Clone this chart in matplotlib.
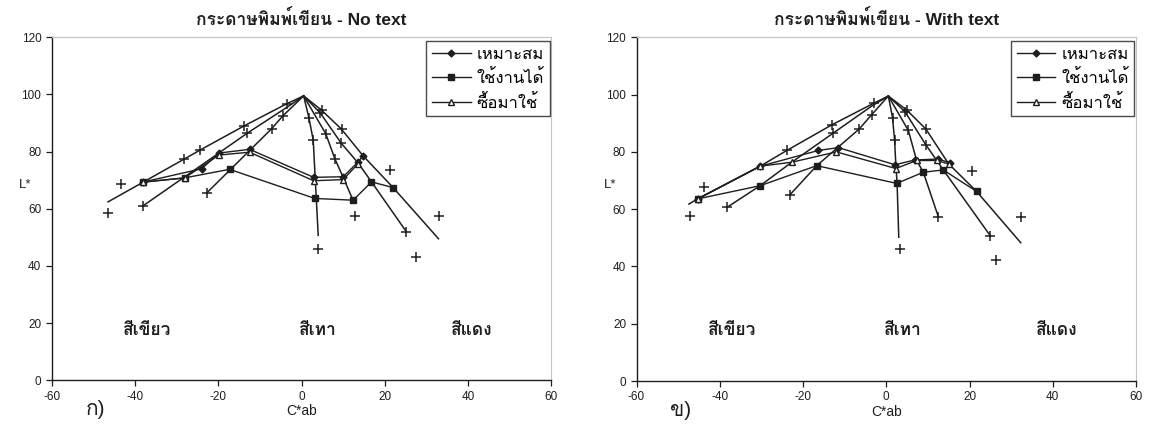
import matplotlib
matplotlib.use("Agg")
import matplotlib.pyplot as plt
import matplotlib.font_manager as fm
from matplotlib import ft2font

# look for any installed font that has Thai glyphs
thai_font = None
for f in fm.fontManager.ttflist:
    try:
        if ft2font.FT2Font(f.fname).get_char_index(0x0E01):
            thai_font = f.name
            break
    except Exception:
        pass

families = ["Liberation Sans"]
if thai_font:
    families.append(thai_font)
families.append("DejaVu Sans")
plt.rcParams["font.family"] = families
plt.rcParams["axes.unicode_minus"] = False

# ---------------- data ----------------
titles = ["กระดาษพิมพ์เขียน - No text", "กระดาษพิมพ์เขียน - With text"]
panel_tags = ["ก)", "ข)"]
series_names = ["เหมาะสม", "ใช้งานได้", "ซื้อมาใช้"]
hue_names = ["สีเขียว", "สีเทา", "สีแดง"]
hue_name_x = [-37, 4, 41]

# panel ก) No text : hue lines from the gray point
nt_lines_x = [
    [0.5, -3.5, -13.8, -24.3, -28.3, -46.5],
    [0.5, -3.0, -13.0, -24.0, -38.2],
    [0.5, -4.5, -7.2, -22.8],
    [0.5, 1.8, 2.8, 4.0],
    [0.5, 5.8, 8.0, 10.0, 12.5],
    [0.5, 4.5, 9.5, 13.6, 16.8, 25.2],
    [0.5, 4.8, 9.5, 14.8, 22.0, 32.9],
]
nt_lines_y = [
    [99.5, 96.8, 89.0, 80.6, 77.3, 62.4],
    [99.5, 96.0, 86.5, 75.3, 60.9],
    [99.5, 92.5, 88.0, 65.5],
    [99.5, 91.6, 84.0, 50.7],
    [99.5, 86.3, 77.5, 71.0, 62.5],
    [99.5, 93.5, 83.0, 76.0, 69.4, 51.9],
    [99.5, 94.5, 88.0, 78.5, 67.4, 49.5],
]
nt_plus_x = [-3.5, -13.8, -24.3, -28.3, -13.0, -38.2, -4.5, -7.2, -22.8, 1.8, 2.8,
             5.8, 8.0, 4.5, 9.5, 25.2, 4.8, 9.6, -46.4, -43.3, 4.0, 12.8, 21.2, 27.6, 32.9]
nt_plus_y = [96.8, 89.0, 80.6, 77.3, 86.5, 60.9, 92.5, 88.0, 65.5, 91.6, 84.0,
             86.3, 77.5, 93.5, 83.0, 51.9, 94.5, 88.0, 58.5, 68.5, 46.0, 57.5, 73.7, 43.1, 57.3]
nt_s1_x = [-38.2, -24.0, -19.8, -12.5, 2.9, 10.0, 13.6, 14.8]
nt_s1_y = [69.3, 74.0, 79.5, 80.8, 71.0, 71.2, 76.4, 78.5]
nt_s2_x = [-38.2, -28.1, -17.3, 3.2, 12.4, 16.8, 22.0]
nt_s2_y = [69.3, 70.8, 73.8, 63.6, 63.0, 69.4, 67.4]
nt_s3_x = [-38.2, -28.1, -19.8, -12.5, 2.9, 10.0, 13.6]
nt_s3_y = [69.3, 70.8, 78.8, 79.8, 69.8, 70.2, 75.8]

# panel ข) With text
wt_lines_x = [
    [0.5, -3.0, -13.0, -23.9, -30.3, -45.3, -47.4],
    [0.5, -3.5, -12.8, -22.7, -30.3, -38.3],
    [0.5, -3.5, -6.5, -16.7, -23.1],
    [0.5, 1.5, 2.0, 2.3, 2.6, 3.0],
    [0.5, 5.3, 7.3, 8.9, 12.5],
    [0.5, 4.5, 9.5, 13.7, 25.0],
    [0.5, 5.0, 9.5, 15.0, 21.7, 32.3],
]
wt_lines_y = [
    [99.5, 97.0, 89.5, 80.5, 75.0, 63.6, 61.8],
    [99.5, 96.0, 86.5, 76.4, 68.2, 60.6],
    [99.5, 93.0, 88.0, 75.2, 65.1],
    [99.5, 92.0, 84.0, 75.5, 69.0, 50.2],
    [99.5, 87.5, 77.0, 72.9, 57.4],
    [99.5, 94.0, 82.5, 73.7, 50.7],
    [99.5, 94.5, 88.0, 75.8, 66.2, 48.3],
]
wt_plus_x = [-3.0, -13.0, -23.9, -12.8, -3.5, -6.5, 1.5, 2.0, 5.3, 4.5, 9.5, 5.0, 9.5,
             25.0, -38.3, -23.1, 12.5, -47.1, -43.9, 3.3, 20.6, 26.3, 32.3]
wt_plus_y = [97.0, 89.5, 80.5, 86.5, 93.0, 88.0, 92.0, 84.0, 87.5, 94.0, 82.5, 94.5, 88.0,
             50.7, 60.6, 65.1, 57.4, 57.7, 67.9, 46.0, 73.2, 42.3, 57.4]
wt_s1_x = [-45.3, -30.3, -16.3, -11.5, 2.1, 6.9, 12.5, 15.3]
wt_s1_y = [63.6, 75.0, 80.5, 81.5, 75.5, 77.2, 77.5, 76.2]
wt_s2_x = [-45.3, -30.3, -16.7, 2.5, 8.9, 13.7, 21.7]
wt_s2_y = [63.6, 68.2, 75.2, 69.0, 72.9, 73.7, 66.2]
wt_s3_x = [-45.3, -30.3, -22.7, -12.0, 2.3, 7.3, 12.1, 15.0]
wt_s3_y = [63.6, 75.0, 76.4, 80.0, 74.2, 77.0, 77.0, 75.8]

x_ticks = [-60, -40, -20, 0, 20, 40, 60]
y_ticks = [0, 20, 40, 60, 80, 100, 120]

# ---------------- drawing ----------------
ink = "#1e1e1e"
fig = plt.figure(figsize=(11.51, 4.34), dpi=100)
ax1 = fig.add_axes([0.045, 0.124, 0.434, 0.79])
ax2 = fig.add_axes([0.553, 0.122, 0.434, 0.792])


def draw_panel(ax, lines_x, lines_y, plus_x, plus_y, series, title, tag):
    for lx, ly in zip(lines_x, lines_y):
        ax.plot(lx, ly, color=ink, lw=1.1, zorder=2)
    ax.plot(plus_x, plus_y, ls="none", marker="+", ms=7, mew=1.1, color=ink, zorder=3)

    styles = [dict(marker="D", ms=3.5, mfc=ink), dict(marker="s", ms=4.5, mfc=ink),
              dict(marker="^", ms=4.5, mfc="white")]
    for (sx, sy), name, st in zip(series, series_names, styles):
        ax.plot(sx, sy, color=ink, lw=1.0, mec=ink, label=name, zorder=4, **st)

    for name, hx in zip(hue_names, hue_name_x):
        ax.text(hx, 17.5, name, ha="center", va="center", fontsize=12.5,
                fontweight="bold", color=ink)

    ax.set_xlim(-60, 60)
    ax.set_ylim(0, 120)
    ax.set_xticks(x_ticks)
    ax.set_yticks(y_ticks)
    ax.tick_params(labelsize=8.5, colors=ink, length=4, width=0.9, direction="out")
    for side in ["top", "right"]:
        ax.spines[side].set_color("#c4c4c4")
        ax.spines[side].set_linewidth(0.8)
    for side in ["left", "bottom"]:
        ax.spines[side].set_color(ink)
        ax.spines[side].set_linewidth(1.0)
    ax.set_title(title, fontsize=12.5, fontweight="bold", color=ink, pad=9)
    ax.set_xlabel("C*ab", fontsize=10, color=ink, labelpad=1)
    ax.text(-0.04, 0.57, "L*", transform=ax.transAxes, ha="right", va="center",
            fontsize=9.5, color=ink)
    ax.text(0.088, -0.085, tag, transform=ax.transAxes, ha="center", va="center",
            fontsize=15, color=ink)

    leg = ax.legend(loc="upper right", bbox_to_anchor=(1.0, 0.995), fontsize=12,
                    frameon=True, fancybox=False, handlelength=2.3,
                    borderpad=0.35, labelspacing=0.45, handletextpad=0.35,
                    borderaxespad=0.1)
    leg.get_frame().set_edgecolor(ink)
    leg.get_frame().set_linewidth(1.0)


draw_panel(ax1, nt_lines_x, nt_lines_y, nt_plus_x, nt_plus_y,
           [(nt_s1_x, nt_s1_y), (nt_s2_x, nt_s2_y), (nt_s3_x, nt_s3_y)],
           titles[0], panel_tags[0])
draw_panel(ax2, wt_lines_x, wt_lines_y, wt_plus_x, wt_plus_y,
           [(wt_s1_x, wt_s1_y), (wt_s2_x, wt_s2_y), (wt_s3_x, wt_s3_y)],
           titles[1], panel_tags[1])

fig.savefig("out.png", dpi=100, facecolor="white")
